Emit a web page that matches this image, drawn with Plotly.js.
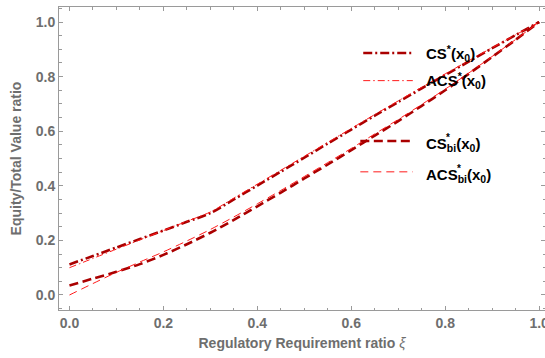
<!DOCTYPE html>
<html>
<head>
<meta charset="utf-8">
<script src="https://cdn.plot.ly/plotly-3.0.1.min.js"></script>
<style>html,body{margin:0;padding:0;background:#fff}#chart{width:545px;height:358px}</style>
</head>
<body>
<div id="chart"></div>
<script>
// Regulatory requirement ratio xi
const xi = [0,0.05,0.1,0.15,0.2,0.25,0.3,0.35,0.4,0.45,0.5,0.55,0.6,0.65,0.7,0.75,0.8,0.85,0.9,0.95,1.0];
// Equity / total value ratios
const csStar   = [0.112,0.143,0.174,0.205,0.236,0.268,0.300,0.350,0.401,0.452,0.503,0.555,0.606,0.657,0.707,0.757,0.806,0.855,0.904,0.952,1.0];
const acsStar  = [0.100,0.134,0.168,0.202,0.236,0.270,0.304,0.355,0.406,0.457,0.508,0.559,0.610,0.661,0.711,0.761,0.810,0.858,0.906,0.953,1.0];
const csBi     = [0.035,0.060,0.085,0.113,0.147,0.186,0.228,0.275,0.325,0.375,0.427,0.478,0.531,0.584,0.637,0.693,0.750,0.810,0.872,0.935,1.0];
const acsBi    = [0.000,0.042,0.083,0.121,0.158,0.198,0.240,0.286,0.334,0.383,0.434,0.485,0.537,0.590,0.643,0.698,0.754,0.813,0.874,0.936,1.0];
const seriesNames = ["CS*(x0)","ACS*(x0)","CS*bi(x0)","ACS*bi(x0)"];
// tick values / labels (both axes)
const tickValues = [0, 0.2, 0.4, 0.6, 0.8, 1.0];
const tickLabels = ["0.0", "0.2", "0.4", "0.6", "0.8", "1.0"];

const dark = "#aa0000", red = "#ff1a1a";
const styles = [
  {color: dark, width: 2.6, dash: "9px,3px,2px,3px"},
  {color: red,  width: 1.0, dash: "7px,3px,1.5px,3px"},
  {color: dark, width: 2.6, dash: "9px,4.5px"},
  {color: red,  width: 1.0, dash: "8px,5px"}
];
const ys = [csStar, acsStar, csBi, acsBi];
const data = ys.map((y,i)=>({
  x: xi, y: y, type: "scatter", mode: "lines", name: seriesNames[i],
  line: Object.assign({shape: "spline", smoothing: 0.8}, styles[i]),
  showlegend: false, hoverinfo: "skip"
}));

const F = "Liberation Sans";
const gray = "#6e6e6e";
const axisCommon = {
  showgrid: false, zeroline: false, showline: true, linecolor: "#9a9a9a", linewidth: 1,
  mirror: "ticks", ticks: "inside", ticklen: 4, tickwidth: 1, tickcolor: "#9a9a9a",
  tickmode: "array", tickvals: tickValues, ticktext: tickLabels.map(t => "<b>" + t + "</b>"),
  ticklabeloverflow: "allow",
  minor: {tickmode: "linear", tick0: 0, dtick: 0.05, ticks: "inside", ticklen: 2.5, tickcolor: "#9a9a9a", showgrid: false},
  tickfont: {family: F, size: 14, color: gray},
  automargin: false
};

// legend drawn by hand (sample lines + labels) in paper coordinates
const L = {x0: 0.626, x1: 0.728, tx: 0.752};
const legY = [0.848, 0.757, 0.558, 0.456];
const shapes = legY.map((yy,i)=>({
  type: "line", xref: "paper", yref: "paper", x0: i>=2?0.620:L.x0, x1: L.x1, y0: yy, y1: yy,
  line: {color: styles[i].color, width: styles[i].width, dash: styles[i].dash}
}));
const lf = {family: F, size: 15, color: "#000"};
const annotations = [
  {text: "<b>CS<sup>*</sup>(x<sub>0</sub>)</b>", y: legY[0]},
  {text: "<b>ACS<sup>*</sup>(x<sub>0</sub>)</b>", y: legY[1]},
  {text: "<b>CS<sub>bi</sub>(x<sub>0</sub>)</b>", y: legY[2]-0.012},
  {text: "<b>ACS<sub>bi</sub>(x<sub>0</sub>)</b>", y: legY[3]-0.012}
].map(a=>Object.assign({xref:"paper", yref:"paper", x: L.tx, xanchor:"left", yanchor:"middle",
  showarrow:false, font: lf}, a));
// stacked stars above the "bi" subscripts
annotations.push({xref:"paper", yref:"paper", x: L.tx+0.041, y: legY[2]+0.012, text:"<b>*</b>",
  xanchor:"left", yanchor:"middle", showarrow:false, font:{family:F, size:10, color:"#000"}});
annotations.push({xref:"paper", yref:"paper", x: L.tx+0.062, y: legY[3]+0.012, text:"<b>*</b>",
  xanchor:"left", yanchor:"middle", showarrow:false, font:{family:F, size:10, color:"#000"}});

const layout = {
  width: 545, height: 358,
  margin: {l: 59, r: 0, t: 7, b: 48},
  paper_bgcolor: "#fff", plot_bgcolor: "#fff",
  font: {family: F},
  xaxis: Object.assign({}, axisCommon, {
    range: [-0.0223, 1.0125],
    title: {text: "<b>Regulatory Requirement ratio</b> <i>ξ</i>", standoff: 8,
            font: {family: F, size: 14, color: gray}}
  }),
  yaxis: Object.assign({}, axisCommon, {
    range: [-0.055, 1.055],
    title: {text: "<b>Equity/Total Value ratio</b>", standoff: 10,
            font: {family: F, size: 14, color: gray}}
  }),
  shapes: shapes,
  annotations: annotations,
  showlegend: false
};
Plotly.newPlot("chart", data, layout, {staticPlot: true, displayModeBar: false});
</script>
</body>
</html>
